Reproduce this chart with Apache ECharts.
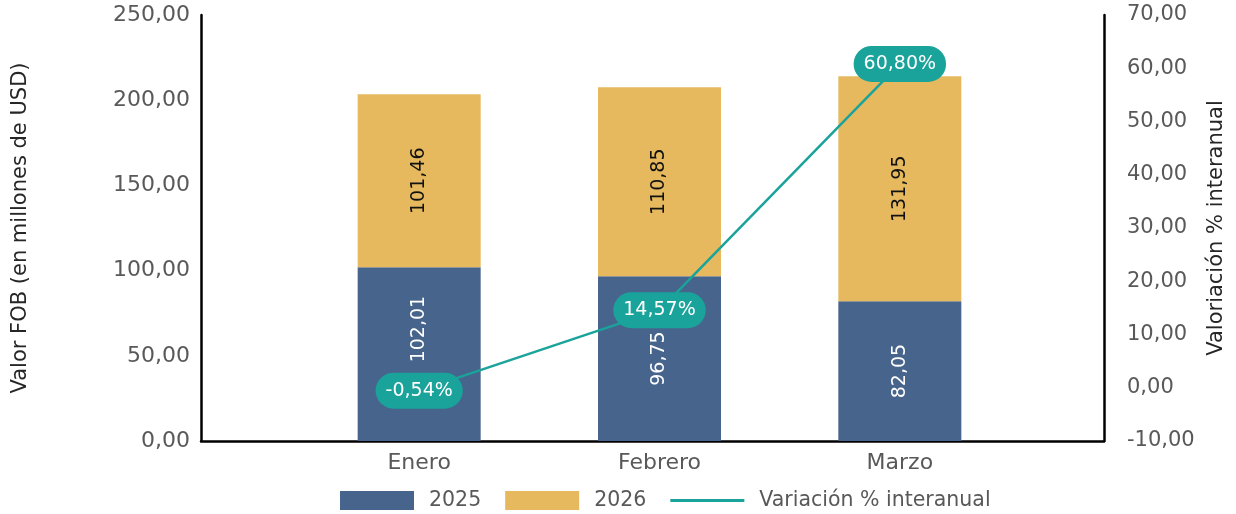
<!DOCTYPE html>
<html>
<head>
<meta charset="utf-8">
<script src="https://cdn.jsdelivr.net/npm/echarts@6/dist/echarts.min.js"></script>
<style>
  html, body { margin: 0; padding: 0; background: #fff; }
  #main { width: 1236px; height: 514px; }
</style>
</head>
<body>
<div id="main"></div>
<script>
// data
const months = ['Enero', 'Febrero', 'Marzo'];
const v2025 = [102.01, 96.75, 82.05];
const v2026 = [101.46, 110.85, 131.95];
const variacion = [-0.54, 14.57, 60.80];

const FONT = 'DejaVu Sans';
const fmt = v => v.toFixed(2).replace('.', ',');

const chart = echarts.init(document.getElementById('main'), null, { renderer: 'canvas' });

const axisBlack = { show: true, lineStyle: { color: '#000', width: 2.5 } };

// the Enero 2025 label sits a bit higher in the original
// (offset is in the rotated label frame, so x points up here)
const data2025 = v2025.map((v, i) => i === 0 ? { value: v, label: { offset: [25, 0] } } : v);

chart.setOption({
  animation: false,
  textStyle: { fontFamily: FONT },
  grid: [
    // frame with the two value axes
    { left: 201, right: 132, top: 15, bottom: 73, outerBoundsMode: 'none' },
    // categories sit in a narrower band inside the frame
    { left: 299, right: 216, top: 15, bottom: 73, outerBoundsMode: 'none' }
  ],
  legend: {
    left: 335,
    top: 485,
    itemWidth: 74,
    itemHeight: 19,
    itemGap: 24,
    textStyle: { fontFamily: FONT, fontSize: 20.5, color: '#595959', padding: [0, 0, 0, 10] },
    data: [
      { name: '2025', icon: 'rect' },
      { name: '2026', icon: 'rect' },
      { name: 'Variación % interanual', icon: 'path://M0,0 L80,0 L80,3 L0,3 Z' }
    ]
  },
  xAxis: [
    {
      gridIndex: 0, type: 'category', data: [''],
      axisLine: axisBlack, axisTick: { show: false }, axisLabel: { show: false }
    },
    {
      gridIndex: 1, type: 'category', data: months,
      axisLine: { show: false }, axisTick: { show: false },
      axisLabel: { fontFamily: FONT, fontSize: 22, color: '#595959', margin: 11 }
    }
  ],
  yAxis: [
    {
      gridIndex: 0, type: 'value', min: 0, max: 250, interval: 50,
      axisLine: axisBlack, axisTick: { show: false }, splitLine: { show: false },
      axisLabel: { fontFamily: FONT, fontSize: 22, color: '#595959', margin: 11, formatter: fmt },
      name: 'Valor FOB (en millones de USD)', nameLocation: 'middle', nameGap: 170,
      nameTextStyle: { fontFamily: FONT, fontSize: 21, color: '#262626' }
    },
    {
      gridIndex: 0, type: 'value', min: -10, max: 70, interval: 10, position: 'right',
      axisLine: axisBlack, axisTick: { show: false }, splitLine: { show: false },
      axisLabel: { fontFamily: FONT, fontSize: 21, color: '#595959', margin: 23, formatter: fmt },
      name: 'Valoriación % interanual', nameLocation: 'middle', nameGap: 102, nameRotate: 90,
      nameTextStyle: { fontFamily: FONT, fontSize: 21, color: '#262626' }
    },
    { gridIndex: 1, type: 'value', min: 0, max: 250, show: false },
    { gridIndex: 1, type: 'value', min: -10, max: 70, show: false, position: 'right' }
  ],
  series: [
    {
      name: '2025', type: 'bar', stack: 'fob', xAxisIndex: 1, yAxisIndex: 2,
      data: data2025, barWidth: 123,
      itemStyle: { color: '#46648c' },
      label: {
        show: true, position: 'inside', rotate: 90, formatter: p => fmt(p.value),
        fontFamily: FONT, fontSize: 19, color: '#fff'
      }
    },
    {
      name: '2026', type: 'bar', stack: 'fob', xAxisIndex: 1, yAxisIndex: 2,
      data: v2026, barWidth: 123,
      itemStyle: { color: '#e6b95f' },
      label: {
        show: true, position: 'inside', rotate: 90, formatter: p => fmt(p.value),
        fontFamily: FONT, fontSize: 19, color: '#111'
      }
    },
    {
      name: 'Variación % interanual', type: 'line', xAxisIndex: 1, yAxisIndex: 3,
      data: variacion, symbol: 'circle', symbolSize: 2,
      itemStyle: { color: '#1aa39a' },
      lineStyle: { color: '#1aa39a', width: 2.5 },
      z: 5,
      label: {
        show: true, position: 'inside', formatter: p => fmt(p.value) + '%',
        fontFamily: FONT, fontSize: 19, color: '#fff',
        backgroundColor: '#1aa39a', borderRadius: 19, padding: [9, 10, 8, 10]
      }
    }
  ]
});
</script>
</body>
</html>
